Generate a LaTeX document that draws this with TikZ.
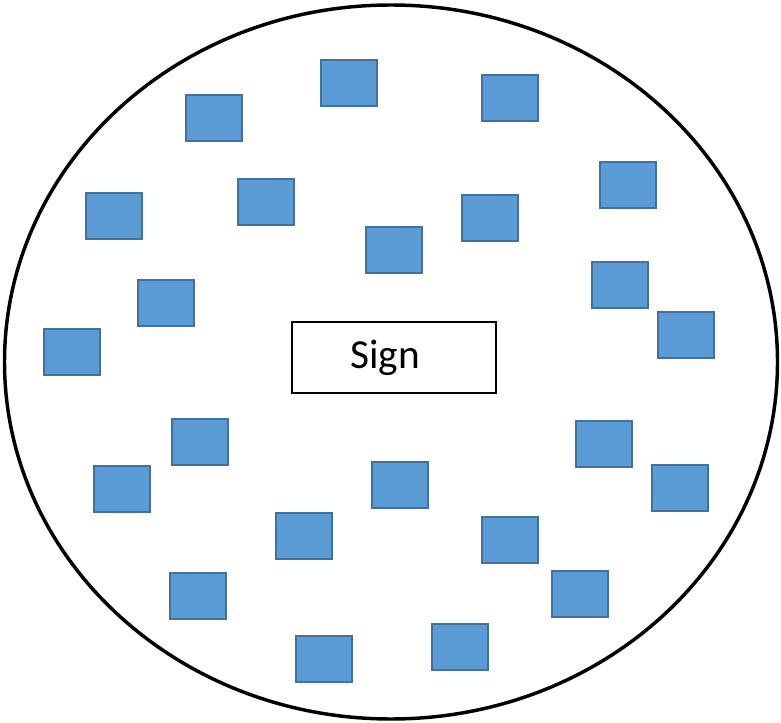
\documentclass[tikz,border=0pt]{standalone}
\usepackage{fontspec}
\setmainfont{Carlito}
\definecolor{tilefill}{HTML}{5B9BD5}
\definecolor{tiledraw}{HTML}{41719C}
\begin{document}
\begin{tikzpicture}[
    x=0.75pt, y=-0.75pt,
    tile/.style={rectangle, draw=tiledraw, line width=1.5pt, fill=tilefill, minimum width=42pt, minimum height=34.5pt, inner sep=0pt},
    signbox/.style={rectangle, draw=black, line width=1.3pt, fill=white, minimum width=153pt, minimum height=53pt, font=\fontsize{31}{36}\selectfont}
]
    \useasboundingbox (0,0) rectangle (781,723);
    % outer boundary
    \draw[line width=2.6pt] (391,362) ellipse [x radius=386.5, y radius=357];

    % centre label
    \node[signbox] (sign) at (394,357.5) {\kern-13.5pt Sign};

    % blue tiles
    \foreach \px/\py [count=\i] in {214/118, 349/83, 510/98, 628/185, 114/216,
        266/202, 394/250, 490/218, 620/285, 686/335, 166/303, 72/352,
        200/442, 122/489, 400/485, 604/444, 680/488, 304/536, 510/540,
        198/596, 580/594, 324/659, 460/647}
        \node[tile] (tile\i) at (\px,\py) {};
\end{tikzpicture}
\end{document}
